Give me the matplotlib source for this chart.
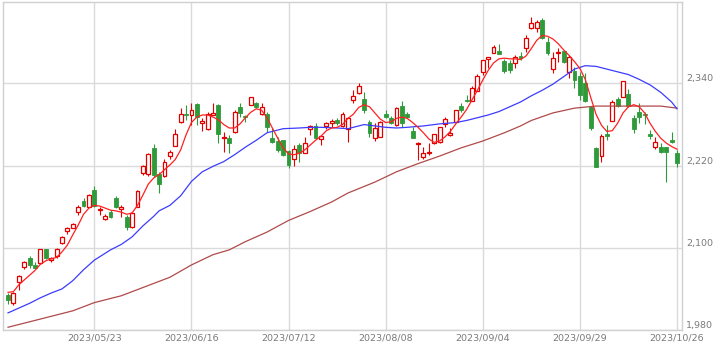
import matplotlib
matplotlib.use('Agg')
import matplotlib.pyplot as plt
import numpy as np

# daily candles (index 0 .. 124)
opens = [2031, 2019, 2050, 2072, 2085, 2075, 2078, 2098, 2082, 2088,
         2107, 2124, 2129, 2152, 2168, 2160, 2184, 2155, 2142, 2152,
         2173, 2157, 2145, 2130, 2160, 2209, 2208, 2246, 2208, 2205,
         2234, 2249, 2284, 2296, 2294, 2310, 2282, 2273, 2294, 2309,
         2260, 2260, 2269, 2306, 2293, 2308, 2311, 2295, 2295, 2260,
         2256, 2257, 2241, 2230, 2250, 2238, 2274, 2278, 2259, 2278,
         2282, 2287, 2278, 2274, 2316, 2326, 2317, 2284, 2260, 2262,
         2295, 2290, 2279, 2307, 2295, 2271, 2252, 2233, 2238, 2253,
         2254, 2281, 2265, 2284, 2307, 2316, 2314, 2329, 2357, 2376,
         2384, 2387, 2373, 2370, 2370, 2380, 2392, 2421, 2421, 2433,
         2400, 2361, 2385, 2387, 2357, 2358, 2351, 2341, 2306, 2246,
         2234, 2266, 2285, 2317, 2320, 2325, 2290, 2298, 2296, 2266,
         2247, 2247, 2247, 2257, 2238]
highs = [2034, 2035, 2060, 2081, 2088, 2079, 2099, 2099, 2087, 2100,
         2117, 2130, 2136, 2163, 2173, 2178, 2190, 2160, 2149, 2155,
         2176, 2163, 2148, 2151, 2184, 2221, 2238, 2252, 2211, 2230,
         2243, 2273, 2304, 2308, 2311, 2311, 2290, 2298, 2311, 2310,
         2269, 2265, 2301, 2311, 2294, 2320, 2313, 2311, 2298, 2275,
         2262, 2257, 2243, 2250, 2253, 2262, 2279, 2282, 2265, 2284,
         2288, 2290, 2298, 2291, 2330, 2341, 2328, 2287, 2282, 2285,
         2301, 2293, 2306, 2314, 2298, 2276, 2254, 2247, 2253, 2266,
         2276, 2291, 2275, 2301, 2311, 2323, 2336, 2354, 2374, 2379,
         2396, 2398, 2376, 2374, 2382, 2386, 2411, 2437, 2433, 2436,
         2408, 2386, 2392, 2389, 2382, 2364, 2357, 2355, 2307, 2247,
         2266, 2279, 2316, 2320, 2344, 2332, 2294, 2311, 2298, 2272,
         2262, 2253, 2247, 2269, 2243]
lows = [2018, 2016, 2038, 2069, 2070, 2070, 2077, 2084, 2079, 2085,
        2106, 2120, 2129, 2148, 2160, 2159, 2160, 2148, 2141, 2144,
        2158, 2145, 2126, 2129, 2159, 2206, 2205, 2203, 2180, 2203,
        2230, 2249, 2282, 2287, 2279, 2279, 2271, 2272, 2294, 2253,
        2240, 2238, 2268, 2291, 2284, 2308, 2304, 2294, 2269, 2253,
        2240, 2234, 2217, 2219, 2225, 2238, 2265, 2260, 2250, 2274,
        2276, 2279, 2276, 2254, 2311, 2325, 2297, 2262, 2256, 2262,
        2290, 2281, 2278, 2276, 2290, 2260, 2228, 2230, 2235, 2252,
        2253, 2276, 2263, 2284, 2298, 2313, 2314, 2329, 2352, 2363,
        2384, 2383, 2355, 2355, 2363, 2374, 2386, 2419, 2415, 2405,
        2382, 2355, 2371, 2370, 2348, 2333, 2316, 2313, 2272, 2218,
        2225, 2257, 2285, 2306, 2320, 2306, 2268, 2282, 2281, 2259,
        2244, 2238, 2196, 2253, 2218]
closes = [2024, 2034, 2059, 2079, 2075, 2071, 2098, 2085, 2085, 2098,
          2116, 2129, 2135, 2160, 2161, 2177, 2161, 2157, 2146, 2145,
          2160, 2160, 2130, 2151, 2183, 2219, 2237, 2206, 2193, 2225,
          2240, 2266, 2295, 2294, 2301, 2291, 2285, 2295, 2297, 2266,
          2262, 2253, 2298, 2297, 2291, 2320, 2306, 2306, 2276, 2254,
          2243, 2236, 2221, 2244, 2238, 2253, 2278, 2260, 2263, 2282,
          2285, 2282, 2295, 2290, 2322, 2336, 2301, 2268, 2275, 2284,
          2291, 2282, 2304, 2282, 2291, 2260, 2253, 2238, 2240, 2266,
          2276, 2288, 2268, 2301, 2301, 2314, 2333, 2351, 2374, 2379,
          2393, 2383, 2358, 2360, 2379, 2377, 2406, 2428, 2430, 2406,
          2384, 2377, 2386, 2371, 2379, 2345, 2323, 2314, 2275, 2218,
          2263, 2264, 2313, 2307, 2344, 2307, 2273, 2291, 2294, 2264,
          2254, 2240, 2240, 2255, 2224]

# short moving average, one value per candle
ma_short = [2035, 2036, 2046, 2053, 2060, 2067, 2076, 2081, 2084, 2086,
            2094, 2104, 2119, 2133, 2149, 2158, 2162, 2161, 2158, 2155,
            2154, 2152, 2149, 2151, 2162, 2177, 2193, 2202, 2207, 2214,
            2221, 2229, 2243, 2265, 2283, 2291, 2294, 2294, 2291, 2287,
            2280, 2275, 2275, 2281, 2290, 2298, 2303, 2301, 2290, 2275,
            2260, 2246, 2237, 2236, 2238, 2243, 2250, 2257, 2263, 2271,
            2275, 2276, 2280, 2289, 2295, 2305, 2309, 2306, 2297, 2288,
            2283, 2284, 2289, 2291, 2289, 2283, 2276, 2268, 2259, 2254,
            2256, 2262, 2270, 2281, 2291, 2302, 2316, 2330, 2345, 2359,
            2370, 2376, 2377, 2376, 2376, 2375, 2380, 2391, 2403, 2410,
            2409, 2405, 2398, 2389, 2381, 2372, 2362, 2346, 2320, 2295,
            2279, 2270, 2271, 2282, 2297, 2306, 2309, 2306, 2297, 2282,
            2270, 2260, 2253, 2248, 2244]

# medium moving average, sampled
ma_mid_idx = [0, 2, 4, 6, 8, 10, 12, 14, 16, 19, 21, 23, 25, 27, 28, 30,
              32, 34, 36, 38, 40, 42, 44, 46, 48, 51, 54, 56, 58, 61, 63,
              64, 66, 68, 70, 72, 74, 77, 80, 83, 85, 87, 89, 91, 93, 95,
              97, 99, 101, 103, 105, 107, 109, 111, 113, 115, 117, 119,
              121, 123, 124]
ma_mid = [2005, 2012, 2019, 2027, 2034, 2040, 2052, 2068, 2082, 2097,
          2105, 2116, 2132, 2146, 2154, 2162, 2176, 2197, 2211, 2219,
          2226, 2236, 2247, 2257, 2268, 2274, 2275, 2276, 2276, 2275,
          2274, 2276, 2280, 2278, 2276, 2275, 2276, 2278, 2281, 2283,
          2286, 2290, 2294, 2299, 2306, 2313, 2322, 2330, 2339, 2350,
          2361, 2366, 2365, 2361, 2357, 2353, 2346, 2338, 2327, 2313,
          2303]

# long moving average, sampled
ma_long_idx = [0, 4, 8, 12, 16, 21, 26, 30, 34, 38, 41, 44, 48, 52, 56,
               60, 63, 68, 72, 76, 80, 84, 88, 92, 95, 97, 101, 105, 109,
               113, 117, 121, 124]
ma_long = [1984, 1992, 2000, 2008, 2020, 2030, 2045, 2057, 2075, 2090,
           2097, 2109, 2123, 2140, 2153, 2167, 2180, 2196, 2211, 2223,
           2234, 2246, 2256, 2268, 2278, 2286, 2297, 2304, 2307, 2307,
           2307, 2307, 2304]

tick_pos = [16, 34, 52, 70, 88, 106, 124]
tick_labels = ['2023/05/23', '2023/06/16', '2023/07/12', '2023/08/08',
               '2023/09/04', '2023/09/29', '2023/10/26']
y_ticks = [1980, 2100, 2220, 2340]

up_col = '#e00000'
down_col = '#2f9a3a'

fig = plt.figure(figsize=(7.24, 3.52), dpi=100)
ax = fig.add_axes([3 / 724, 22 / 352, 679 / 724, 328 / 352])

o = np.array(opens, dtype=float)
h = np.array(highs, dtype=float)
l = np.array(lows, dtype=float)
c = np.array(closes, dtype=float)
x = np.arange(len(c))
up = c >= o
dn = ~up

# wicks first, bodies on top
ax.vlines(x[up], l[up], h[up], color=up_col, lw=0.8, zorder=2)
ax.vlines(x[dn], l[dn], h[dn], color=down_col, lw=0.8, zorder=2)
ax.bar(x[up], np.maximum(c[up] - o[up], 0.6), bottom=o[up], width=0.72,
       facecolor='white', edgecolor=up_col, lw=0.9, zorder=3)
ax.bar(x[dn], np.maximum(o[dn] - c[dn], 0.6), bottom=c[dn], width=0.72,
       facecolor=down_col, edgecolor=down_col, lw=0.6, zorder=3)

ax.plot(ma_long_idx, ma_long, color='#b04a4a', lw=0.9, zorder=4)
ax.plot(ma_mid_idx, ma_mid, color='#3c3cff', lw=0.9, zorder=4)
ax.plot(x, ma_short, color='#ff2020', lw=0.9, zorder=5)

ax.set_xlim(-0.93, 124.93)
ax.set_ylim(1980, 2459)

ax.set_xticks(tick_pos)
ax.set_xticklabels(tick_labels)
ax.yaxis.tick_right()
ax.set_yticks(y_ticks)
ax.set_yticklabels(['{:,}'.format(v) for v in y_ticks])
ax.tick_params(axis='both', length=0, labelsize=6.8, labelcolor='#7a7a7a')
ax.tick_params(axis='x', pad=2.5)
ax.tick_params(axis='y', pad=3)
for lbl in ax.get_yticklabels():
    lbl.set_verticalalignment('bottom')

ax.grid(True, color='#dadada', lw=1)
ax.set_axisbelow(True)
for s in ax.spines.values():
    s.set_color('#d0d0d0')
    s.set_linewidth(1)

fig.savefig('out.png', dpi=100)
